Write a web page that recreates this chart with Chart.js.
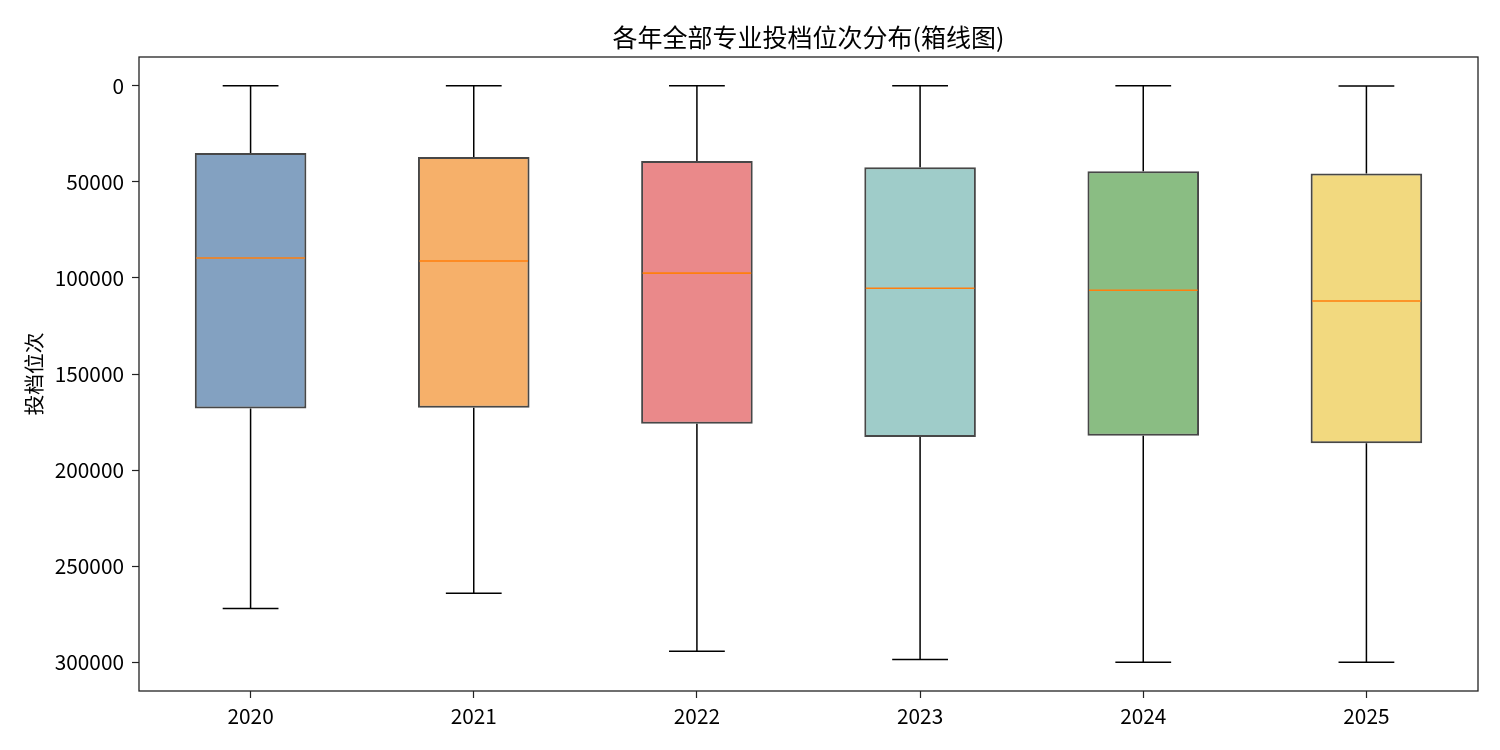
<!DOCTYPE html>
<html>
<head>
<meta charset="utf-8">
<script src="https://cdn.jsdelivr.net/npm/chart.js@4.4.0/dist/chart.umd.min.js"></script>
<style>
  html, body { margin: 0; padding: 0; background: #fff; }
  #wrap { width: 1500px; height: 750px; }
</style>
</head>
<body>
<div id="wrap"><canvas id="boxChart" width="1500" height="750"></canvas></div>
<script>
// 各年投档位次 五数概括
var years = ["2020", "2021", "2022", "2023", "2024", "2025"];
var whiskerLow = [0, 0, 0, 0, 0, 100];
var q1 = [35000, 37100, 39150, 42400, 44500, 45700];
var median = [89600, 91200, 97500, 105400, 106400, 112000];
var q3 = [168000, 167600, 175900, 182800, 182100, 186000];
var whiskerHigh = [272000, 264100, 294300, 298600, 300000, 300000];
var yTicks = [0, 50000, 100000, 150000, 200000, 250000, 300000];
var boxColors = ["rgba(78,121,167,0.7)", "rgba(242,142,43,0.7)", "rgba(225,87,89,0.7)",
                 "rgba(118,183,178,0.7)", "rgba(89,161,79,0.7)", "rgba(237,201,72,0.7)"];

var FONT = "'Noto Sans CJK SC', 'Noto Sans', sans-serif";

// 须线、中位数、外框
var boxExtras = {
    id: 'boxExtras',
    afterDatasetsDraw: function (chart) {
        var ctx = chart.ctx, x = chart.scales.x, y = chart.scales.y;
        var unit = x.getPixelForValue(1) - x.getPixelForValue(0);
        ctx.save();
        for (var i = 0; i < years.length; i++) {
            var cx = x.getPixelForValue(i);
            var capHalf = unit * 0.125, boxHalf = unit * 0.25;
            ctx.strokeStyle = '#000';
            ctx.lineWidth = 1.5;
            ctx.beginPath();
            ctx.moveTo(cx, y.getPixelForValue(whiskerLow[i]));
            ctx.lineTo(cx, y.getPixelForValue(q1[i]));
            ctx.moveTo(cx, y.getPixelForValue(q3[i]));
            ctx.lineTo(cx, y.getPixelForValue(whiskerHigh[i]));
            ctx.moveTo(cx - capHalf, y.getPixelForValue(whiskerLow[i]));
            ctx.lineTo(cx + capHalf, y.getPixelForValue(whiskerLow[i]));
            ctx.moveTo(cx - capHalf, y.getPixelForValue(whiskerHigh[i]));
            ctx.lineTo(cx + capHalf, y.getPixelForValue(whiskerHigh[i]));
            ctx.stroke();

            ctx.strokeStyle = '#ff7f0e';
            ctx.lineWidth = 1.6;
            ctx.beginPath();
            ctx.moveTo(cx - boxHalf + 1.5, y.getPixelForValue(median[i]));
            ctx.lineTo(cx + boxHalf - 1.5, y.getPixelForValue(median[i]));
            ctx.stroke();
        }
        var a = chart.chartArea;
        ctx.strokeStyle = '#222';
        ctx.lineWidth = 1.3;
        ctx.strokeRect(a.left, a.top, a.right - a.left, a.bottom - a.top);
        ctx.restore();
    }
};

var ctxB = document.getElementById("boxChart").getContext('2d');
var boxChart = new Chart(ctxB, {
    type: 'bar',
    data: {
        labels: years,
        datasets: [{
            data: years.map(function (_, i) { return [q1[i], q3[i]]; }),
            backgroundColor: boxColors,
            borderColor: 'rgba(25,25,25,0.8)',
            borderWidth: 2,
            borderSkipped: false,
            barPercentage: 0.5,
            categoryPercentage: 1.0
        }]
    },
    plugins: [boxExtras],
    options: {
        responsive: false,
        animation: false,
        layout: { padding: { left: 0, right: 22, top: 0, bottom: 0 } },
        plugins: {
            legend: { display: false },
            tooltip: { enabled: false },
            title: {
                display: true,
                fullSize: false,
                text: '各年全部专业投档位次分布(箱线图)',
                color: '#000',
                font: { family: FONT, size: 25, weight: 'normal' },
                padding: { top: 22, bottom: 5 }
            }
        },
        scales: {
            x: {
                offset: true,
                border: { display: false },
                grid: { display: true, drawOnChartArea: false, drawTicks: true, tickLength: 7, tickColor: '#222', tickWidth: 1.2, offset: false },
                ticks: { color: '#000', padding: 6, font: { family: FONT, size: 20.8 } },
                afterFit: function (scale) { scale.height = 59; }
            },
            y: {
                reverse: true,
                min: -15000,
                max: 315000,
                border: { display: false },
                grid: { display: true, drawOnChartArea: false, drawTicks: true, tickLength: 7, tickColor: '#222', tickWidth: 1.2 },
                ticks: {
                    color: '#000',
                    padding: 8,
                    font: { family: FONT, size: 20.8 },
                    callback: function (v) { return String(v); }
                },
                afterBuildTicks: function (scale) {
                    scale.ticks = yTicks.map(function (v) { return { value: v }; });
                },
                title: {
                    display: true,
                    text: '投档位次',
                    color: '#000',
                    font: { family: FONT, size: 20.8 },
                    padding: { top: 22, bottom: 0 }
                },
                afterFit: function (scale) { scale.width = 139; }
            }
        }
    }
});
</script>
</body>
</html>
